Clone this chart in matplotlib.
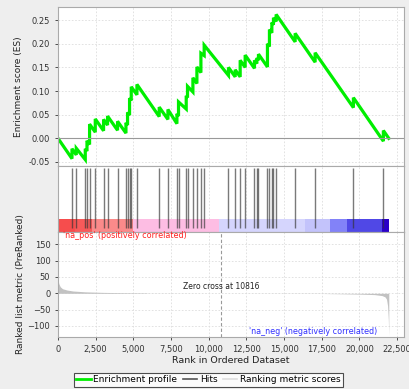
import numpy as np
import matplotlib.pyplot as plt
from matplotlib.ticker import FuncFormatter, MultipleLocator
from matplotlib.lines import Line2D

# ---- data ----
n_genes = 21950
zero_cross = 10816

hit_ranks = [928, 1213, 1810, 1923, 2095, 2473, 3024, 3289, 3952, 4509,
             4615, 4748, 4861, 5238, 6717, 7294, 7891, 7997, 8508, 8594,
             8952, 9217, 9483, 9700, 11313, 11757, 12089, 12420, 13037, 13196,
             13302, 13899, 14031, 14191, 14297, 14476, 15736, 17062, 19602, 21591]

# running enrichment score: value just before and just after each hit
es_before = [-0.043, -0.035, -0.045, -0.027, -0.013, 0.013, 0.016, 0.028, 0.017, 0.011,
             0.028, 0.049, 0.080, 0.092, 0.046, 0.040, 0.031, 0.047, 0.062, 0.086,
             0.098, 0.116, 0.139, 0.175, 0.133, 0.130, 0.130, 0.150, 0.148, 0.158,
             0.165, 0.151, 0.194, 0.223, 0.240, 0.247, 0.204, 0.161, 0.065, -0.006]
es_after = [-0.022, -0.021, -0.022, -0.005, 0.030, 0.041, 0.040, 0.047, 0.036, 0.033,
            0.055, 0.085, 0.109, 0.114, 0.066, 0.061, 0.052, 0.077, 0.090, 0.110,
            0.128, 0.151, 0.180, 0.197, 0.150, 0.145, 0.165, 0.176, 0.165, 0.170,
            0.178, 0.200, 0.230, 0.245, 0.255, 0.262, 0.222, 0.181, 0.086, 0.0165]

metric_rank = [0, 50, 150, 300, 600, 1000, 1800, 3000, 4500, 5800, 6000, 7500, 9500,
               10816, 12500, 15000, 17500, 18800, 20000, 21000, 21500, 21700,
               21800, 21870, 21920, 21950]
metric_val = [45, 30, 20, 14, 10, 7, 4.5, 2.8, 1.8, 1.3, 0.4, 0.3, 0.1,
              0, -0.2, -0.4, -0.6, -1.5, -2.5, -4, -7, -11,
              -18, -38, -80, -130]

band_edges = [0, 1150, 2275, 4990, 10700, 16400, 18060, 19180, 21500, 21950]
band_colors = ['#f64d4d', '#f85a5a', '#fb8a8a', '#fdbde3', '#d5d5fd',
               '#c3c3fb', '#8282f8', '#5048e6', '#2a00c8']

# ---- figure ----
fig = plt.figure(figsize=(4.09, 3.89), dpi=100, facecolor='#eeeeee')
W, H = 409, 389
left, width = 58 / W, 346 / W
ax1 = fig.add_axes([left, (H - 166) / H, width, 159 / H])
ax2 = fig.add_axes([left, (H - 232) / H, width, 66 / H])
ax3 = fig.add_axes([left, (H - 337) / H, width, 105 / H])

xmax = 22960
tick_fs = 6
grid_kw = dict(color='#dddddd', linestyle=(0, (2, 2)), linewidth=0.6)

for ax in (ax1, ax2, ax3):
    ax.set_xlim(0, xmax)
    ax.xaxis.set_major_locator(MultipleLocator(2500))
    ax.tick_params(labelsize=tick_fs, colors='#333333', length=2, width=0.6)
    for s in ax.spines.values():
        s.set_color('#aaaaaa')
        s.set_linewidth(0.8)
    ax.set_axisbelow(True)

# enrichment profile
xs = [0]
ys = [0.0]
for r, b, a in zip(hit_ranks, es_before, es_after):
    xs += [r, r]
    ys += [b, a]
xs.append(n_genes)
ys.append(0.0)

ax1.plot(xs, ys, color='#00ee00', linewidth=2.3, solid_joinstyle='miter')
ax1.axhline(0, color='#999999', linewidth=0.8)
ax1.set_ylim(-0.0585, 0.2777)
ax1.yaxis.set_major_locator(MultipleLocator(0.05))
ax1.yaxis.set_major_formatter(FuncFormatter(lambda v, p: f'{v:.2f}'))
ax1.tick_params(axis='x', labelbottom=False, length=0)
ax1.grid(True, **grid_kw)
ax1.set_ylabel('Enrichment score (ES)', fontsize=6.5, color='#222222', labelpad=4)

# hits and ranked list colour band
ax2.set_ylim(0, 1)
ax2.set_yticks([])
ax2.tick_params(axis='x', labelbottom=False, length=0)
ax2.grid(True, axis='x', **grid_kw)
for i, c in enumerate(band_colors):
    ax2.axvspan(band_edges[i], band_edges[i + 1], ymin=0, ymax=0.19,
                color=c, linewidth=0)
ax2.vlines(hit_ranks, 0.06, 0.97, color='#333333', linewidth=1.0, alpha=0.65)

# ranked list metric
ax3.fill_between(metric_rank, metric_val, 0, color='#c2c2c2', linewidth=0)
ax3.set_ylim(-134, 188)
ax3.yaxis.set_major_locator(MultipleLocator(50))
ax3.xaxis.set_major_formatter(FuncFormatter(lambda v, p: f'{int(v):,}'))
ax3.grid(True, **grid_kw)
ax3.axvline(zero_cross, color='#999999', linewidth=0.8, linestyle=(0, (3, 2)))
ax3.text(zero_cross, 22, f'Zero cross at {zero_cross}', fontsize=5.5,
         ha='center', va='center', color='#222222')
ax3.text(300, 177, "'na_pos' (positively correlated)", fontsize=5.8,
         color='#ff2020', ha='left', va='center')
ax3.text(21200, -118, "'na_neg' (negatively correlated)", fontsize=5.8,
         color='#3030ff', ha='right', va='center')
ax3.set_ylabel('Ranked list metric (PreRanked)', fontsize=6.5, color='#222222',
               labelpad=2)
ax3.set_xlabel('Rank in Ordered Dataset', fontsize=6.8, color='#222222', labelpad=2)

# legend
handles = [Line2D([], [], color='#00ee00', linewidth=2),
           Line2D([], [], color='#555555', linewidth=1.2),
           Line2D([], [], color='#dddddd', linewidth=1.2)]
labels = ['Enrichment profile', 'Hits', 'Ranking metric scores']
leg = fig.legend(handles, labels, loc='center', ncol=3,
                 bbox_to_anchor=(208.5 / W, 1 - 380 / H), fontsize=6.5,
                 frameon=True, fancybox=False, edgecolor='#222222',
                 handlelength=1.6, handletextpad=0.3, columnspacing=0.6,
                 borderpad=0.25, borderaxespad=0)
leg.get_frame().set_linewidth(0.8)

fig.savefig('out.png', dpi=100, facecolor=fig.get_facecolor())
